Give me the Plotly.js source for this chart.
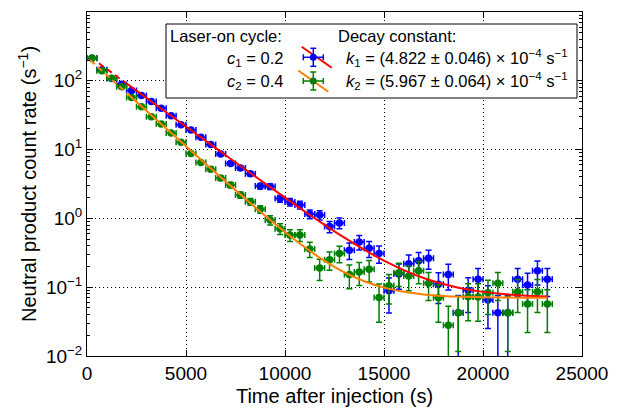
<!DOCTYPE html>
<html><head><meta charset="utf-8">
<script src="https://cdn.plot.ly/plotly-3.0.1.min.js"></script>
<style>html,body{margin:0;padding:0;background:#fff}#chart{width:634px;height:417px}</style>
</head><body><div id="chart"></div>
<script>
// ---- data ----
const timeS = [250,750,1250,1750,2250,2750,3250,3750,4250,4750,5250,5750,6250,6750,7250,7750,8250,8750,9250,9750,10250,10750,11250,11750,12250,12750,13250,13750,14250,14750,15250,15750,16250,16750,17250,17750,18250,18750,19250,19750,20250,20750,21250,21750,22250,22750,23250];
const timeErr = 250;
const rateC1 = [212,145,108,89,72,61,50,40,31,23,19.3,15.1,11.9,8.6,6.3,5.4,4.45,2.95,2.9,1.94,1.73,1.57,1.16,1.12,0.76,0.86,0.345,0.455,0.367,0.31,0.089,0.155,0.22,0.242,0.263,0.11,0.153,0.0426,0.09,0.13,0.065,0.0426,0.0426,0.13,0.108,0.174,0.13];
const errC1 = [2.3,1.9,1.64,1.49,1.34,1.23,1.12,1.0,0.88,0.76,0.69,0.61,0.55,0.46,0.40,0.37,0.33,0.27,0.27,0.22,0.21,0.20,0.17,0.17,0.14,0.15,0.093,0.107,0.096,0.088,0.047,0.062,0.074,0.078,0.081,0.052,0.062,0.033,0.047,0.057,0.040,0.033,0.033,0.057,0.052,0.066,0.057];
const rateC2 = [214,140,109,82,57,42,30,23.5,17.5,12.8,8.8,6.5,5.2,3.85,3.06,2.19,1.75,1.36,0.95,0.71,0.574,0.574,0.36,0.19,0.25,0.31,0.153,0.167,0.182,0.071,0.105,0.162,0.146,0.174,0.114,0.07,0.028,0.0426,0.0725,0.072,0.083,0.114,0.0426,0.086,0.057,0.086,0.057];
const errC2 = [2.17,1.75,1.55,1.34,1.12,0.96,0.81,0.72,0.62,0.53,0.44,0.38,0.34,0.29,0.26,0.22,0.20,0.17,0.145,0.125,0.112,0.112,0.089,0.065,0.074,0.083,0.058,0.061,0.063,0.040,0.048,0.060,0.057,0.062,0.050,0.039,0.025,0.031,0.040,0.040,0.043,0.050,0.031,0.043,0.035,0.043,0.035];
// fit curves
const fitC1T = [600,1000,1500,2000,3000,4000,5000,6000,7000,8000,9000,10000,11000,12000,13000,14000,15000,16000,17000,18000,19000,20000,21000,22000,23250];
const fitC1V = [179.7,148.2,116.4,91.5,56.5,34.9,21.6,13.4,8.28,5.14,3.20,2.00,1.26,0.807,0.525,0.351,0.243,0.177,0.136,0.111,0.095,0.0855,0.0796,0.0759,0.0733];
const fitC2T = [150,1000,1500,2000,3000,4000,5000,6000,7000,8000,9000,10000,11000,12000,13000,14000,15000,16000,17000,18000,19000,20000,21000,22000,23250];
const fitC2V = [201.2,121.1,89.9,66.7,36.7,20.3,11.2,6.2,3.45,1.93,1.09,0.634,0.380,0.241,0.164,0.122,0.0985,0.0857,0.0786,0.0747,0.0726,0.0714,0.0708,0.0705,0.0702];
const fitStart = 2000; // fit range begins here; before it the curve is dashed
const xTickVals = [0,5000,10000,15000,20000,25000];
const xTickText = ['0','5000','10000','15000','20000','25000'];
const yTickVals = [0.01,0.1,1,10,100,1000];
const yTickText = ['10<sup>−2</sup>','10<sup>−1</sup>','10<sup>0</sup>','10<sup>1</sup>','10<sup>2</sup>','10<sup>3</sup>'];
const cycleLabels = ['<i>c</i><sub>1</sub> = 0.2','<i>c</i><sub>2</sub> = 0.4'];
const decayLabels = ['<i>k</i><sub>1</sub> = (4.822 ± 0.046) × 10<sup>−4</sup> s<sup>−1</sup>',
                     '<i>k</i><sub>2</sub> = (5.967 ± 0.064) × 10<sup>−4</sup> s<sup>−1</sup>'];

// ---- styling ----
const BLUE='#0000ff', GREEN='#008000', RED='#ff0000', ORANGE='#ff8000';
const FONT='Liberation Sans, Arial, sans-serif';
const PL=87, PR=582, PT=12, PB=356;
const px = x => (x-PL)/(PR-PL);
const py = y => (PB-y)/(PB-PT);

function pts(color, y, e){
  return {x: timeS, y: y, type:'scatter', mode:'markers', hoverinfo:'skip',
    marker:{color:color, size:7.5, line:{width:0}},
    error_x:{type:'constant', value:timeErr, color:color, thickness:1.5, width:3},
    error_y:{type:'data', array:e, color:color, thickness:1.5, width:3}};
}
function sub(T,V,pred){const x=[],y=[];T.forEach((t,i)=>{if(pred(t)){x.push(t);y.push(V[i]);}});return {x,y};}
function fit(T,V,color){
  const d=sub(T,V,t=>t<=fitStart), s=sub(T,V,t=>t>=fitStart);
  return [
    {x:d.x,y:d.y,type:'scatter',mode:'lines',hoverinfo:'skip',line:{color:color,width:2,dash:'6px,4px',shape:'spline'}},
    {x:s.x,y:s.y,type:'scatter',mode:'lines',hoverinfo:'skip',line:{color:color,width:2,shape:'spline'}}
  ];
}
const data = [pts(BLUE,rateC1,errC1), pts(GREEN,rateC2,errC2)]
  .concat(fit(fitC1T,fitC1V,RED)).concat(fit(fitC2T,fitC2V,ORANGE));

// legend box built from shapes + annotations
const shapes = [{type:'rect',xref:'paper',yref:'paper',x0:px(166),x1:px(577),y0:py(98),y1:py(24),
  line:{color:'black',width:1},fillcolor:'white',layer:'above'}];
function glyph(cy, lineColor, lx0, ly0, lx1, ly1, mColor){
  const cx=313.3;
  shapes.push({type:'line',xref:'paper',yref:'paper',x0:px(lx0),y0:py(ly0),x1:px(lx1),y1:py(ly1),line:{color:lineColor,width:2},layer:'above'});
  const L=(a,b,c,d)=>shapes.push({type:'line',xref:'paper',yref:'paper',x0:px(a),y0:py(b),x1:px(c),y1:py(d),line:{color:mColor,width:1.5},layer:'above'});
  L(cx-10,cy,cx+10,cy); L(cx-10,cy-3,cx-10,cy+3); L(cx+10,cy-3,cx+10,cy+3);
  L(cx,cy-9,cx,cy+9); L(cx-3,cy-9,cx+3,cy-9); L(cx-3,cy+9,cx+3,cy+9);
  shapes.push({type:'circle',xref:'paper',yref:'paper',x0:px(cx-3.5),x1:px(cx+3.5),y0:py(cy+3.5),y1:py(cy-3.5),fillcolor:mColor,line:{width:0},layer:'above'});
}
glyph(57.3, RED, 301.7,46.7,331.7,67.7, BLUE);
glyph(81.0, ORANGE, 298.3,70.5,328.3,91.7, GREEN);

const lf = {family:FONT,size:16.5,color:'black'};
const annotations = [
  {xref:'paper',yref:'paper',x:px(168),y:py(36),xanchor:'left',yanchor:'middle',text:'Laser-on cycle:',showarrow:false,font:lf},
  {xref:'paper',yref:'paper',x:px(336),y:py(36),xanchor:'left',yanchor:'middle',text:'Decay constant:',showarrow:false,font:lf},
  {xref:'paper',yref:'paper',x:px(285),y:py(59),xanchor:'right',yanchor:'middle',text:cycleLabels[0],showarrow:false,font:lf},
  {xref:'paper',yref:'paper',x:px(285),y:py(82),xanchor:'right',yanchor:'middle',text:cycleLabels[1],showarrow:false,font:lf},
  {xref:'paper',yref:'paper',x:px(344),y:py(58),xanchor:'left',yanchor:'middle',text:decayLabels[0],showarrow:false,font:lf},
  {xref:'paper',yref:'paper',x:px(344),y:py(81),xanchor:'left',yanchor:'middle',text:decayLabels[1],showarrow:false,font:lf}
];

const axCommon = {showline:true,linecolor:'black',linewidth:1,mirror:'allticks',ticks:'inside',ticklen:6,tickwidth:1,tickcolor:'black',
  showgrid:true,gridcolor:'black',griddash:'1px,3px',gridwidth:1,zeroline:false,tickfont:{family:FONT,size:19,color:'black'}};
const layout = {
  width:634,height:417,paper_bgcolor:'white',plot_bgcolor:'white',showlegend:false,
  margin:{l:PL,r:634-PR,t:PT,b:417-PB},
  font:{family:FONT,color:'black'},
  xaxis:Object.assign({},axCommon,{range:[0,25000],tickmode:'array',tickvals:xTickVals,ticktext:xTickText,
    title:{text:'Time after injection (s)',font:{family:FONT,size:20,color:'black'},standoff:6}}),
  yaxis:Object.assign({},axCommon,{type:'log',range:[-2,3],tickmode:'array',tickvals:yTickVals,ticktext:yTickText,
    minor:{ticks:'inside',ticklen:3,tickcolor:'black',tickwidth:1,dtick:'D1',tickmode:'linear',showgrid:false},
    title:{text:'Neutral product count rate (s<sup>−1</sup>)',font:{family:FONT,size:20,color:'black'},standoff:3}}),
  shapes:shapes, annotations:annotations
};
Plotly.newPlot('chart',data,layout,{staticPlot:true,displayModeBar:false});
</script></body></html>
